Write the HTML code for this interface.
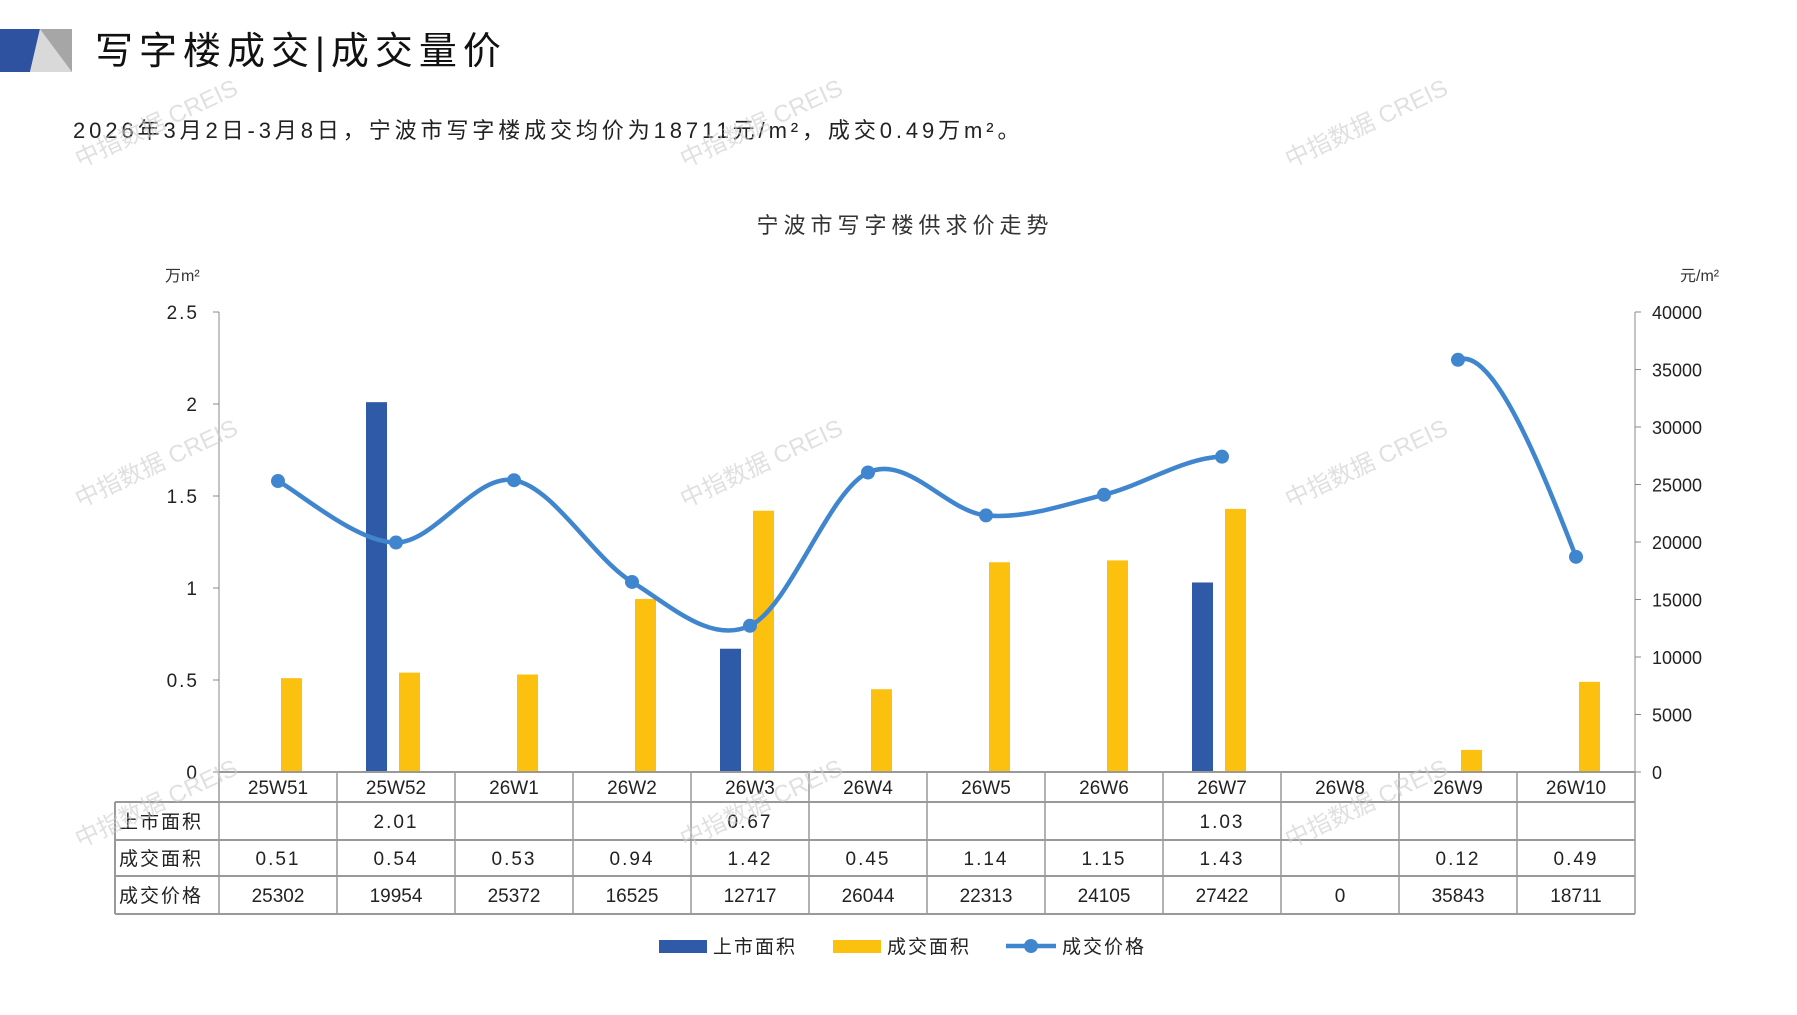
<!DOCTYPE html>
<html><head><meta charset="utf-8"><style>
body{margin:0;background:#fff;width:1797px;height:1010px;overflow:hidden;font-family:"Liberation Sans","Noto Sans CJK SC",sans-serif;}
svg text{font-family:"Liberation Sans","Noto Sans CJK SC",sans-serif;}
</style></head><body>
<svg id="s" width="1797" height="1010" xmlns="http://www.w3.org/2000/svg">
<polygon points="0,29 40,29 30,72 0,72" fill="#2f52a0"/>
<polygon points="40,29 72,29 72,72 30,72" fill="#d9d9d9"/>
<polygon points="40,29 72,29 72,72" fill="#a6a6a6"/>
<text x="95" y="64" font-size="38" fill="#111" letter-spacing="6">写字楼成交|成交量价</text>
<text x="73" y="138" font-size="22" fill="#222" letter-spacing="3.9">2026年3月2日-3月8日，宁波市写字楼成交均价为18711元/m²，成交0.49万m²。</text>
<text x="905" y="233" font-size="22" fill="#333" text-anchor="middle" letter-spacing="5">宁波市写字楼供求价走势</text>
<text x="165" y="281" font-size="16" fill="#333">万m²</text>
<text x="1680" y="281" font-size="16" fill="#333">元/m²</text>
<g id="g"></g>
</svg>
<script>
const g=document.getElementById('g');let h='';
const L=219,R=1635,Y0=772,TOP=312,H=Y0-TOP,cw=(R-L)/12;
h+=`<line x1="${L}" y1="${TOP}" x2="${L}" y2="${Y0}" stroke="#888"/>`;
h+=`<line x1="${R}" y1="${TOP}" x2="${R}" y2="${Y0}" stroke="#888"/>`;
['0','0.5','1','1.5','2','2.5'].forEach((t,i)=>{const y=Y0-i*H/5;h+=`<line x1="${L-6}" y1="${y}" x2="${L}" y2="${y}" stroke="#888"/><text x="${L-20}" y="${y+7}" font-size="19" text-anchor="end" fill="#222" letter-spacing="2">${t}</text>`;});
for(let i=0;i<=8;i++){const y=Y0-i*H/8;h+=`<line x1="${R}" y1="${y}" x2="${R+6}" y2="${y}" stroke="#888"/><text x="${R+17}" y="${y+7}" font-size="18" fill="#222">${i*5000}</text>`;}
const cats=['25W51','25W52','26W1','26W2','26W3','26W4','26W5','26W6','26W7','26W8','26W9','26W10'];
const sup=[null,2.01,null,null,0.67,null,null,null,1.03,null,null,null];
const dl=[0.51,0.54,0.53,0.94,1.42,0.45,1.14,1.15,1.43,null,0.12,0.49];
const pr=[25302,19954,25372,16525,12717,26044,22313,24105,27422,0,35843,18711];
const k=H/2.5;
cats.forEach((c,i)=>{const cx=L+cw*(i+0.5);
 if(sup[i]){const hh=sup[i]*k;h+=`<rect x="${cx-30}" y="${Y0-hh}" width="21" height="${hh}" fill="#2f5aa8"/>`;}
 if(dl[i]){const hh=dl[i]*k;h+=`<rect x="${cx+3}" y="${Y0-hh}" width="21" height="${hh}" fill="#fcc10e"/>`;}
});
const py=v=>Y0-v/40000*H;
function seg(idx){const p=idx.map(i=>[L+cw*(i+0.5),py(pr[i])]);
 const n=p.length;p.push([2*p[n-1][0]-p[n-2][0],p[n-1][1]+30]);
 let d=`M${p[0][0]},${p[0][1]}`;
 for(let k=0;k<n-1;k++){const p0=p[k-1]||p[k],p1=p[k],p2=p[k+1],p3=p[k+2];
  d+=` C${p1[0]+(p2[0]-p0[0])/6},${p1[1]+(p2[1]-p0[1])/6} ${p2[0]-(p3[0]-p1[0])/6},${p2[1]-(p3[1]-p1[1])/6} ${p2[0]},${p2[1]}`;}
 return d;}
h+=`<path d="${seg([0,1,2,3,4,5,6,7,8])}" fill="none" stroke="#3f86cf" stroke-width="4.5"/>`;
const a=[L+cw*10.5,py(pr[10])],b=[L+cw*11.5,py(pr[11])];
h+=`<path d="M${a[0]},${a[1]} C${a[0]+35},${a[1]-14} ${b[0]-35},${b[1]-90} ${b[0]},${b[1]}" fill="none" stroke="#3f86cf" stroke-width="4.5"/>`;
pr.forEach((v,i)=>{if(i!==9)h+=`<circle cx="${L+cw*(i+0.5)}" cy="${py(v)}" r="7" fill="#3f86cf"/>`;});
const TL=115,rows=[772,802,840,876,914];
h+=`<line x1="${L}" y1="${rows[0]}" x2="${R}" y2="${rows[0]}" stroke="#999" stroke-width="2"/>`;
rows.slice(1).forEach(y=>h+=`<line x1="${TL}" y1="${y}" x2="${R}" y2="${y}" stroke="#999" stroke-width="2"/>`);
h+=`<line x1="${TL}" y1="${rows[1]}" x2="${TL}" y2="${rows[4]}" stroke="#999" stroke-width="2"/>`;
for(let i=0;i<=12;i++){const x=L+cw*i;h+=`<line x1="${x}" y1="${rows[0]}" x2="${x}" y2="${rows[4]}" stroke="#999" stroke-width="1.5"/>`;}
const rowTxt=[cats,sup,dl,pr];const lab=['','上市面积','成交面积','成交价格'];
rowTxt.forEach((r,j)=>{const yc=(rows[j]+rows[j+1])/2+7;
 if(lab[j])h+=`<text x="${TL+4}" y="${yc}" font-size="19" fill="#222" letter-spacing="2">${lab[j]}</text>`;
 r.forEach((v,i)=>{if(v!==null)h+=`<text x="${L+cw*(i+0.5)}" y="${yc}" font-size="19" text-anchor="middle" fill="#222" letter-spacing="${j==1||j==2?2:0}">${j==1||j==2?v.toFixed(2):v}</text>`;});});
h+=`<rect x="659" y="940" width="48" height="13" fill="#2f5aa8"/><text x="713" y="953" font-size="19" fill="#222" letter-spacing="2">上市面积</text>`;
h+=`<rect x="833" y="940" width="48" height="13" fill="#fcc10e"/><text x="887" y="953" font-size="19" fill="#222" letter-spacing="2">成交面积</text>`;
h+=`<line x1="1006" y1="946" x2="1056" y2="946" stroke="#3f86cf" stroke-width="4.5"/><circle cx="1031" cy="946" r="7" fill="#3f86cf"/><text x="1062" y="953" font-size="19" fill="#222" letter-spacing="2">成交价格</text>`;
[[80,168],[685,168],[1290,168],[80,508],[685,508],[1290,508],[80,848],[685,848],[1290,848]].forEach(([x,y])=>{h+=`<text x="${x}" y="${y}" font-size="24" fill="#ccc" opacity="0.6" transform="rotate(-25 ${x} ${y})">中指数据 CREIS</text>`;});
g.innerHTML=h;
</script>
</body></html>
